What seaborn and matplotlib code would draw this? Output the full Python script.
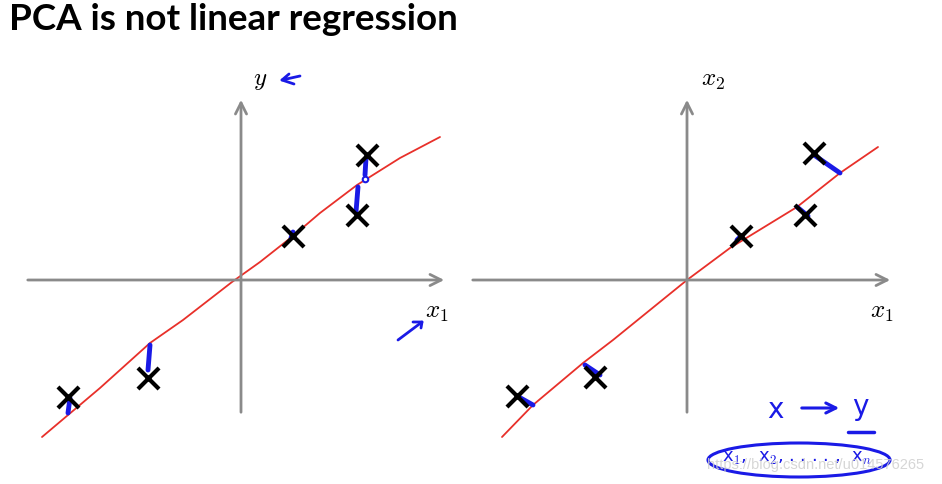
import numpy as np
import matplotlib.pyplot as plt
import seaborn as sns
import pandas as pd
from matplotlib.patches import Ellipse

sns.set_style("white")
plt.rcParams['mathtext.fontset'] = 'cm'

# data points (offsets from the axis crossing, in pixel-like units)
left_x = [126, 116, 52, -93, -173]
left_y = [125, 65, 44, -98, -117]
right_x = [127, 118, 54, -92, -170]
right_y = [127, 65, 44, -97, -116]

# hand-drawn red fit lines
left_line_x = [-199, -141, -91, -58, -9, 19, 52, 79, 116, 159, 199]
left_line_y = [-157, -108, -63, -40, -2, 18, 44, 67, 95, 122, 143]
right_line_x = [-185, -154, -104, -74, -37, 0, 43, 110, 153, 191]
right_line_y = [-157, -125, -83, -60, -30, 0, 32, 73, 107, 133]

# blue error strokes: vertical for regression, orthogonal for PCA
left_err = [((-173, -133), (-171, -118)), ((-91, -65), (-93, -90)),
            ((117, 93), (115, 68)), ((124, 105), (125, 122)),
            ((52, 48), (50, 42))]
right_err = [((-170, -116), (-154, -125)), ((-102, -85), (-87, -95)),
             ((54, 44), (50, 40)), ((110, 73), (121, 64)),
             ((127, 125), (153, 107))]

fig = plt.figure(figsize=(9.42, 4.84), dpi=100)
fig.text(9 / 942, 1 - 19 / 484, "PCA is not linear regression", fontsize=26.5,
         fontweight='bold', family='Lato', color='black', va='center', ha='left')

axl = fig.add_axes([0, 0, 0.5, 424 / 484])
axr = fig.add_axes([0.5, 0, 0.5, 424 / 484])
axl.set_xlim(-241, 230)
axr.set_xlim(-216, 255)
for ax in (axl, axr):
    ax.set_ylim(-204, 220)
    ax.axis('off')

gray = '#8a8a8a'
red = '#e8302a'
blue = '#1a1ae6'


def draw_axes(ax, xl, xr, yb, yt, xlabel, ylabel, xlab_pos, ylab_pos):
    ax.annotate('', xy=(xr, 0), xytext=(xl, 0),
                arrowprops=dict(arrowstyle='->', color=gray, lw=2, mutation_scale=20))
    ax.annotate('', xy=(0, yt), xytext=(0, yb),
                arrowprops=dict(arrowstyle='->', color=gray, lw=2, mutation_scale=20))
    ax.text(*xlab_pos, xlabel, fontsize=18, color='black', ha='center', va='center')
    ax.text(*ylab_pos, ylabel, fontsize=18, color='black', ha='center', va='center')


draw_axes(axl, -216, 206, -135, 183, r'$x_1$', r'$y$', (196, -32), (19, 200))
draw_axes(axr, -217, 206, -135, 183, r'$x_1$', r'$x_2$', (195, -32), (26, 200))

for ax, lx, ly, px, py, errs in [(axl, left_line_x, left_line_y, left_x, left_y, left_err),
                                 (axr, right_line_x, right_line_y, right_x, right_y, right_err)]:
    line_df = pd.DataFrame({'x': lx, 'y': ly})
    sns.lineplot(data=line_df, x='x', y='y', sort=False, color=red, lw=1.3, ax=ax)
    for (x0, y0), (x1, y1) in errs:
        ax.plot([x0, x1], [y0, y1], color=blue, lw=3.5, solid_capstyle='round', zorder=3)
    pts = pd.DataFrame({'x': px, 'y': py})
    sns.scatterplot(data=pts, x='x', y='y', marker='x', s=230, color='black',
                    linewidth=3, ax=ax, zorder=4)

# small circle on the regression stroke
axl.plot([124], [101], marker='o', ms=4, mfc='white', mec=blue, mew=1.5, zorder=4)

# handwritten arrows near labels
axl.plot([59, 41, 48], [204, 200, 206], color=blue, lw=2)
axl.plot([41, 53], [200, 196], color=blue, lw=2)
axl.plot([157, 181], [-60, -42], color=blue, lw=2)
axl.plot([172, 181, 180], [-42, -42, -48], color=blue, lw=2)

# handwritten note bottom right
axr.text(88, -130, 'x', fontsize=20, color=blue, ha='center', va='center')
axr.annotate('', xy=(155, -128), xytext=(112, -128),
             arrowprops=dict(arrowstyle='->', color=blue, lw=2.2, mutation_scale=18))
axr.text(173, -127, 'y', fontsize=20, color=blue, ha='center', va='center')
axr.plot([161, 187], [-152, -152], color=blue, lw=2.5)
axr.add_patch(Ellipse((112, -180), 182, 34, fill=False, ec=blue, lw=2.2))
axr.text(110, -178, r'x$_1$,  x$_2$, . . . . ,  x$_n$', fontsize=13, color=blue,
         ha='center', va='center')
axr.text(129, -185, 'https://blog.csdn.net/u014576265', fontsize=10.5,
         family='Liberation Sans', color='#cfcfcf', alpha=0.85,
         ha='center', va='center', zorder=6)

plt.savefig("out.png", dpi=100)
plt.close()
